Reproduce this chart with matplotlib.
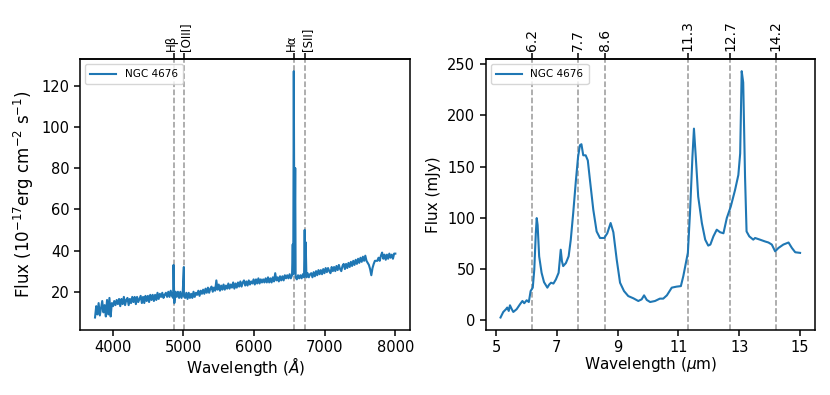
import numpy as np
import matplotlib
matplotlib.use("Agg")
import matplotlib.pyplot as plt
import matplotlib.transforms as mtransforms

# ---------------- Optical spectrum (left) ----------------
opt_wave_start = 3750
opt_wave_end = 8000
opt_flux = [
    7.5, 13.0, 9.0, 14.5, 8.5, 12.0, 15.5, 10.0, 13.5, 8.0,
    16.0, 9.0, 17.0, 8.0, 14.5, 13.0, 15.5, 13.5, 16.0, 14.0,
    16.5, 13.0, 16.5, 14.0, 17.5, 13.5, 16.0, 17.0, 13.5, 16.5,
    14.5, 17.5, 15.0, 17.5, 14.0, 17.5, 15.0, 16.5, 18.0, 14.5,
    17.5, 14.5, 18.0, 15.5, 18.0, 15.0, 18.5, 16.0, 18.5, 15.5,
    18.5, 16.0, 19.5, 16.5, 19.0, 17.5, 19.5, 17.0, 18.5, 19.5,
    17.5, 20.0, 17.5, 20.5, 18.0, 17.0, 14.5, 20.0, 17.5, 20.0,
    17.0, 20.0, 17.0, 19.5, 18.0, 17.0, 19.5, 16.5, 19.5, 17.0,
    19.0, 17.0, 20.0, 17.5, 19.5, 18.5, 20.5, 18.0, 20.5, 19.0,
    21.0, 19.0, 21.5, 19.5, 22.0, 19.5, 21.5, 22.5, 20.0, 22.0,
    20.5, 25.5, 21.0, 23.5, 20.5, 23.0, 21.0, 23.5, 21.0, 23.0,
    21.5, 24.0, 21.5, 23.5, 22.0, 24.5, 21.5, 24.0, 22.0, 24.5,
    22.5, 25.0, 22.5, 24.5, 25.5, 23.0, 25.0, 23.0, 25.5, 23.5,
    25.0, 24.0, 26.0, 23.5, 26.0, 24.0, 26.5, 24.0, 26.0, 24.5,
    26.0, 24.5, 26.5, 24.5, 27.0, 24.5, 26.5, 24.5, 27.0, 25.0,
    29.0, 25.5, 27.0, 25.0, 27.5, 25.5, 27.5, 25.5, 28.0, 26.5,
    28.0, 26.5, 28.5, 26.5, 28.0, 28.5, 29.0, 27.0, 26.0, 28.0,
    26.5, 28.0, 26.5, 28.5, 27.0, 28.0, 27.0, 29.0, 27.0, 28.5,
    29.0, 27.0, 29.5, 27.5, 30.0, 28.0, 30.5, 28.5, 30.5, 28.5,
    31.0, 29.0, 31.5, 29.5, 31.5, 30.0, 29.0, 32.0, 30.0, 32.0,
    30.0, 32.5, 30.5, 33.0, 31.0, 30.0, 32.5, 33.5, 31.0, 33.5,
    31.5, 34.0, 32.0, 34.5, 32.5, 35.0, 33.0, 35.5, 33.5, 36.0,
    34.0, 36.5, 34.5, 37.0, 35.0, 37.5, 35.0, 34.0, 33.0, 31.0,
    28.0, 31.5, 33.5, 35.0, 35.0, 35.0, 36.5, 35.0, 37.5, 39.0,
    36.0, 38.0, 35.5, 38.0, 36.0, 38.5, 36.5, 38.0, 36.0, 38.5, 38.5,
]
# emission line peaks
line_wave = [4861, 5007, 6548, 6563, 6583, 6717, 6731]
line_peak = [33, 32, 43, 127, 80, 50, 44]

opt_line_pos = [4861, 5007, 6563, 6724]
opt_line_labels = ["Hβ", "[OIII]", "Hα", "[SII]"]

# ---------------- Mid-IR spectrum (right) ----------------
ir_wave = [5.15, 5.24, 5.33, 5.37, 5.42, 5.46, 5.52, 5.57, 5.68, 5.79,
           5.87, 5.93, 6.01, 6.08, 6.14, 6.21, 6.26, 6.31, 6.34, 6.37,
           6.42, 6.50, 6.58, 6.69, 6.75, 6.81, 6.89, 6.97, 7.06, 7.13,
           7.17, 7.21, 7.30, 7.39, 7.46, 7.54, 7.63, 7.70, 7.76, 7.81,
           7.87, 7.95, 8.02, 8.09, 8.20, 8.31, 8.42, 8.56, 8.66, 8.77,
           8.86, 8.97, 9.08, 9.21, 9.35, 9.52, 9.68, 9.79, 9.87, 9.96,
           10.07, 10.23, 10.39, 10.50, 10.62, 10.78, 10.94, 11.08, 11.16, 11.31,
           11.38, 11.46, 11.51, 11.57, 11.65, 11.77, 11.88, 11.98, 12.05, 12.15,
           12.26, 12.37, 12.48, 12.59, 12.72, 12.86, 12.97, 13.03, 13.08, 13.13,
           13.19, 13.24, 13.33, 13.46, 13.52, 13.68, 13.85, 13.96, 14.07, 14.18,
           14.29, 14.45, 14.62, 14.73, 14.84, 15.00]
ir_flux = [2.9, 8.3, 11.0, 12.6, 9.3, 14.8, 11.0, 8.3, 11.0, 15.8,
           19.0, 16.8, 19.7, 18.0, 28.7, 32.0, 49.7, 85.0, 99.8, 93.0,
           62.6, 46.5, 37.4, 32.0, 35.0, 36.8, 36.0, 40.0, 46.5, 69.0,
           57.7, 53.0, 56.0, 62.6, 78.8, 104.7, 137.0, 159.5, 170.8, 171.8,
           161.0, 161.0, 156.0, 137.0, 108.0, 86.8, 80.4, 80.4, 85.0, 95.0,
           86.0, 59.4, 36.8, 28.7, 23.8, 21.6, 19.0, 20.6, 24.5, 20.0,
           18.0, 19.0, 21.3, 21.3, 24.5, 32.0, 33.0, 33.5, 43.2, 66.0,
           104.7, 159.5, 187.0, 159.5, 120.7, 95.0, 78.8, 73.0, 74.0, 82.0,
           88.5, 86.0, 85.0, 99.8, 111.0, 127.0, 141.8, 162.8, 243.0, 232.0,
           140.0, 86.8, 82.0, 78.8, 80.4, 78.8, 77.0, 76.0, 74.0, 67.4,
           70.7, 74.0, 76.0, 70.7, 66.5, 65.9]
ir_line_pos = [6.2, 7.7, 8.6, 11.3, 12.7, 14.2]
ir_line_labels = ["6.2", "7.7", "8.6", "11.3", "12.7", "14.2"]

label = "NGC 4676"

# ---------------- build optical arrays ----------------
opt_wave = np.linspace(opt_wave_start, opt_wave_end, len(opt_flux))
w_all = np.concatenate([opt_wave, np.array(line_wave, dtype=float)])
f_all = np.concatenate([np.array(opt_flux), np.array(line_peak, dtype=float)])
order = np.argsort(w_all, kind="stable")
w_all = w_all[order]
f_all = f_all[order]

plt.rcParams['font.family'] = ['DejaVu Sans']
plt.rcParams['axes.linewidth'] = 1.1
plt.rcParams['xtick.major.width'] = 1.1
plt.rcParams['ytick.major.width'] = 1.1
plt.rcParams['xtick.major.size'] = 4
plt.rcParams['ytick.major.size'] = 4

fig = plt.figure(figsize=(8.3, 3.95), dpi=100)
ax1 = fig.add_axes([0.0964, 0.165, 0.398, 0.686])
ax2 = fig.add_axes([0.585, 0.165, 0.397, 0.686])

color = "#1f77b4"
ax1.plot(w_all, f_all, color=color, lw=1.5, label=label)
ax2.plot(ir_wave, ir_flux, color=color, lw=1.5, label=label)

tops = []
for ax, pos, labs, fs in [(ax1, opt_line_pos, opt_line_labels, 8.5),
                          (ax2, ir_line_pos, ir_line_labels, 10)]:
    for p in pos:
        ax.axvline(p, color="grey", ls="--", lw=1.1, alpha=0.8, zorder=0)
    top = ax.secondary_xaxis('top')
    top.set_xticks(pos)
    top.set_xticklabels(labs, rotation=90, fontsize=fs)
    top.tick_params(length=4, width=1.1, pad=2)
    ax.tick_params(labelsize=10.5)
    ax.legend(loc="upper left", fontsize=7.5, handlelength=2.5, borderpad=0.5)
    tops.append(top)

# nudge the close pairs of optical labels apart slightly
shifts = [-2, 2, -2, 2]
for lab, dx in zip(tops[0].get_xticklabels(), shifts):
    lab.set_transform(lab.get_transform() +
                      mtransforms.ScaledTranslation(dx / 100, 0, fig.dpi_scale_trans))

ax1.set_xticks([4000, 5000, 6000, 7000, 8000])
ax1.set_yticks([20, 40, 60, 80, 100, 120])
ax1.set_xlabel(r"Wavelength ($\AA$)", fontsize=11, labelpad=0)
ax1.set_ylabel(r"Flux ($10^{-17}$erg cm$^{-2}$ s$^{-1}$)", fontsize=12)

ax2.set_xticks([5, 7, 9, 11, 13, 15])
ax2.set_yticks([0, 50, 100, 150, 200, 250])
ax2.set_xlabel(r"Wavelength ($\mu$m)", fontsize=11, labelpad=0)
ax2.set_ylabel("Flux (mJy)", fontsize=11)

fig.savefig("out.png", dpi=100)
